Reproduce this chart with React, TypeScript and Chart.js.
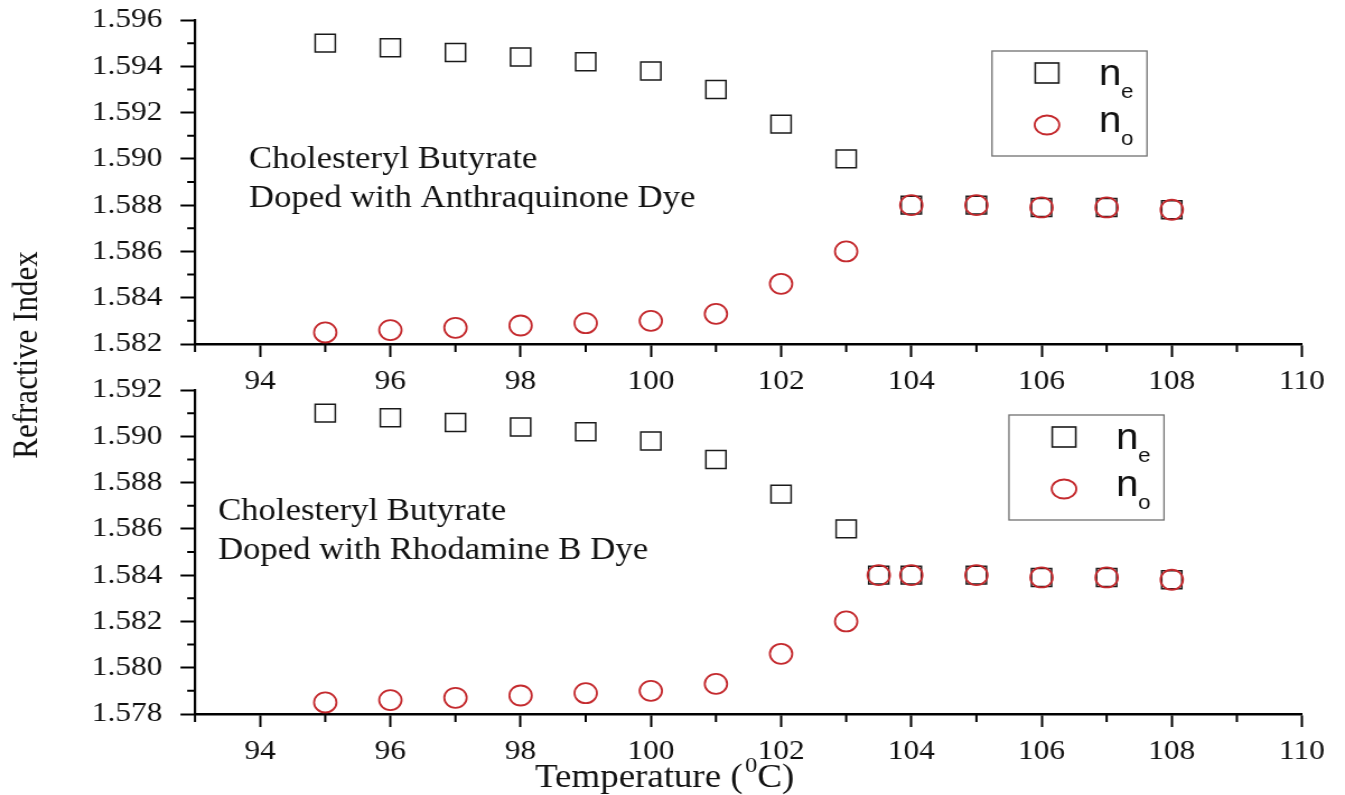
import React, { useEffect, useRef } from 'react';
import { Chart, registerables } from 'chart.js';

Chart.register(...registerables);

// ---------- data ----------
const tempTop = [95, 96, 97, 98, 99, 100, 101, 102, 103, 104, 105, 106, 107, 108];
const neTop = [1.595, 1.5948, 1.5946, 1.5944, 1.5942, 1.5938, 1.593, 1.5915, 1.59, 1.588, 1.588, 1.5879, 1.5879, 1.5878];
const noTop = [1.5825, 1.5826, 1.5827, 1.5828, 1.5829, 1.583, 1.5833, 1.5846, 1.586, 1.588, 1.588, 1.5879, 1.5879, 1.5878];

const tempBottom = [95, 96, 97, 98, 99, 100, 101, 102, 103, 103.5, 104, 105, 106, 107, 108];
const neBottom = [1.591, 1.5908, 1.5906, 1.5904, 1.5902, 1.5898, 1.589, 1.5875, 1.586, 1.584, 1.584, 1.584, 1.5839, 1.5839, 1.5838];
const noBottom = [1.5785, 1.5786, 1.5787, 1.5788, 1.5789, 1.579, 1.5793, 1.5806, 1.582, 1.584, 1.584, 1.584, 1.5839, 1.5839, 1.5838];

const xRange = [93, 110];
const xStep = 2;
const yRangeTop = [1.582, 1.596];
const yRangeBottom = [1.578, 1.592];
const yStep = 0.002;

const noteTop = ['Cholesteryl Butyrate', 'Doped with Anthraquinone Dye'];
const noteBottom = ['Cholesteryl Butyrate', 'Doped with Rhodamine B Dye'];
const legendEntries = [
  ['n', 'e'],
  ['n', 'o'],
];
const yTitle = 'Refractive Index';
const xTitle = ['Temperature (', '0', 'C)'];

// ---------- layout / style ----------
const PAGE_W = 1345;
const PAGE_H = 795;
const CANVAS_W = Math.round(PAGE_W / 1.12);
const KX = PAGE_W / CANVAS_W; // horizontal stretch of the picture
const AREA_LEFT = 195 / KX;
const AREA_RIGHT = 1302 / KX;
const X_AXIS_H = 50;
const SERIF = '"Liberation Serif", "Times New Roman", serif';
const SANS = '"Liberation Sans", Arial, sans-serif';
const RED = '#c42a2e';
const DARK = '#1a1a1a';

type Panel = {
  temps: number[];
  ne: number[];
  no: number[];
  yRange: number[];
  areaTop: number;
  areaBottom: number;
  note: string[];
  noteX: number;
  noteBaselines: number[];
  legendBox: number[];
  drawYTitle: boolean;
  drawXTitle: boolean;
};

const panelTop: Panel = {
  temps: tempTop,
  ne: neTop,
  no: noTop,
  yRange: yRangeTop,
  areaTop: 20,
  areaBottom: 344,
  note: noteTop,
  noteX: 249,
  noteBaselines: [168, 207],
  legendBox: [992, 51],
  drawYTitle: true,
  drawXTitle: false,
};

const panelBottom: Panel = {
  temps: tempBottom,
  ne: neBottom,
  no: noBottom,
  yRange: yRangeBottom,
  areaTop: 390,
  areaBottom: 714,
  note: noteBottom,
  noteX: 218,
  noteBaselines: [520, 559],
  legendBox: [1009, 415],
  drawYTitle: false,
  drawXTitle: true,
};

function makeDecor(p: Panel) {
  return {
    id: 'decor',
    afterDraw(chart: any) {
      const { ctx } = chart;
      const xs = chart.scales.x;
      const ys = chart.scales.y;
      ctx.save();
      // minor ticks
      ctx.strokeStyle = '#000';
      ctx.lineWidth = 2;
      ctx.beginPath();
      for (let v = xRange[0]; v < xRange[1]; v += xStep) {
        const px = xs.getPixelForValue(v);
        ctx.moveTo(px, ys.bottom);
        ctx.lineTo(px, ys.bottom + 8);
      }
      for (let i = 0; i < Math.round((p.yRange[1] - p.yRange[0]) / yStep); i++) {
        const py = ys.getPixelForValue(p.yRange[0] + yStep * (i + 0.5));
        ctx.moveTo(xs.left, py);
        ctx.lineTo(xs.left - 7, py);
      }
      ctx.stroke();

      // annotation
      ctx.fillStyle = '#111';
      ctx.textBaseline = 'alphabetic';
      ctx.textAlign = 'left';
      ctx.font = `31px ${SERIF}`;
      p.note.forEach((line, i) => ctx.fillText(line, p.noteX / KX, p.noteBaselines[i]));

      // legend
      const [bx, by] = p.legendBox;
      ctx.strokeStyle = '#707070';
      ctx.lineWidth = 1.3;
      ctx.strokeRect(bx / KX, by, 155 / KX, 105);
      ctx.strokeStyle = DARK;
      ctx.lineWidth = 1.6;
      ctx.strokeRect((bx + 55) / KX - 10.5, by + 22 - 10, 21, 20);
      ctx.strokeStyle = RED;
      ctx.lineWidth = 1.8;
      ctx.beginPath();
      ctx.ellipse((bx + 55) / KX, by + 74, 11, 9.5, 0, 0, Math.PI * 2);
      ctx.stroke();
      ctx.fillStyle = '#111';
      const rows = [34, 81];
      legendEntries.forEach(([main, sub], i) => {
        ctx.font = `36px ${SANS}`;
        ctx.fillText(main, (bx + 107) / KX, by + rows[i]);
        ctx.font = `20px ${SANS}`;
        ctx.fillText(sub, (bx + 129) / KX, by + rows[i] + 13);
      });

      if (p.drawYTitle) {
        ctx.save();
        ctx.translate(37 / KX, 355);
        ctx.rotate(-Math.PI / 2);
        ctx.textAlign = 'center';
        ctx.font = `31px ${SERIF}`;
        ctx.fillStyle = '#111';
        ctx.fillText(yTitle, 0, 0);
        ctx.restore();
      }
      if (p.drawXTitle) {
        let x = 535 / KX;
        const base = 787;
        ctx.font = `33px ${SERIF}`;
        ctx.fillText(xTitle[0], x, base);
        x += ctx.measureText(xTitle[0]).width + 2;
        ctx.font = `22px ${SERIF}`;
        ctx.fillText(xTitle[1], x, base - 15);
        x += ctx.measureText(xTitle[1]).width;
        ctx.font = `33px ${SERIF}`;
        ctx.fillText(xTitle[2], x, base);
      }
      ctx.restore();
    },
  };
}

function makeChart(canvas: HTMLCanvasElement, p: Panel) {
  return new Chart(canvas, {
    type: 'scatter',
    data: {
      datasets: [
        {
          label: 'no',
          data: p.temps.map((t, i) => ({ x: t, y: p.no[i] })),
          pointStyle: 'circle',
          pointRadius: 10,
          pointBorderWidth: 1.8,
          borderColor: RED,
          backgroundColor: 'rgba(0,0,0,0)',
          order: 0,
          clip: false,
        },
        {
          label: 'ne',
          data: p.temps.map((t, i) => ({ x: t, y: p.ne[i] })),
          pointStyle: 'rect',
          pointRadius: 12.7,
          pointBorderWidth: 1.5,
          borderColor: DARK,
          backgroundColor: 'rgba(0,0,0,0)',
          order: 1,
          clip: false,
        },
      ],
    } as any,
    options: {
      responsive: false,
      animation: false,
      devicePixelRatio: 1,
      events: [],
      layout: {
        padding: {
          left: 0,
          right: CANVAS_W - AREA_RIGHT,
          top: p.areaTop,
          bottom: PAGE_H - p.areaBottom - X_AXIS_H,
        },
      },
      plugins: { legend: { display: false }, tooltip: { enabled: false } },
      scales: {
        x: {
          type: 'linear',
          min: xRange[0],
          max: xRange[1],
          ticks: {
            stepSize: xStep,
            includeBounds: false,
            autoSkip: false,
            maxRotation: 0,
            padding: 8,
            color: '#111',
            font: { family: SERIF, size: 28 },
          },
          grid: { drawOnChartArea: false, drawTicks: true, tickLength: 13, tickWidth: 2, tickColor: '#000' },
          border: { display: true, color: '#000', width: 2.4 },
          afterFit: (s: any) => {
            s.height = X_AXIS_H;
            s.paddingLeft = 0;
            s.paddingRight = 0;
          },
        },
        y: {
          type: 'linear',
          min: p.yRange[0],
          max: p.yRange[1],
          ticks: {
            stepSize: yStep,
            autoSkip: false,
            padding: 16,
            color: '#111',
            font: { family: SERIF, size: 28 },
            callback: (v: any) => Number(v).toFixed(3),
          },
          grid: { drawOnChartArea: false, drawTicks: true, tickLength: 13, tickWidth: 2, tickColor: '#000' },
          border: { display: true, color: '#000', width: 2.2 },
          afterFit: (s: any) => {
            s.width = AREA_LEFT;
            s.paddingTop = 0;
            s.paddingBottom = 0;
          },
        },
      },
    } as any,
    plugins: [makeDecor(p)],
  });
}

export default function App() {
  const topRef = useRef<HTMLCanvasElement>(null);
  const botRef = useRef<HTMLCanvasElement>(null);
  useEffect(() => {
    const c2 = makeChart(botRef.current!, panelBottom);
    const c1 = makeChart(topRef.current!, panelTop);
    return () => {
      c1.destroy();
      c2.destroy();
    };
  }, []);
  const cs: React.CSSProperties = { position: 'absolute', left: 0, top: 0, width: PAGE_W + 'px', height: PAGE_H + 'px' };
  return (
    <div style={{ position: 'absolute', left: 0, top: 0, width: PAGE_W, height: PAGE_H, background: '#fff', overflow: 'hidden' }}>
      <canvas ref={botRef} width={CANVAS_W} height={PAGE_H} style={cs} />
      <canvas ref={topRef} width={CANVAS_W} height={PAGE_H} style={cs} />
    </div>
  );
}
